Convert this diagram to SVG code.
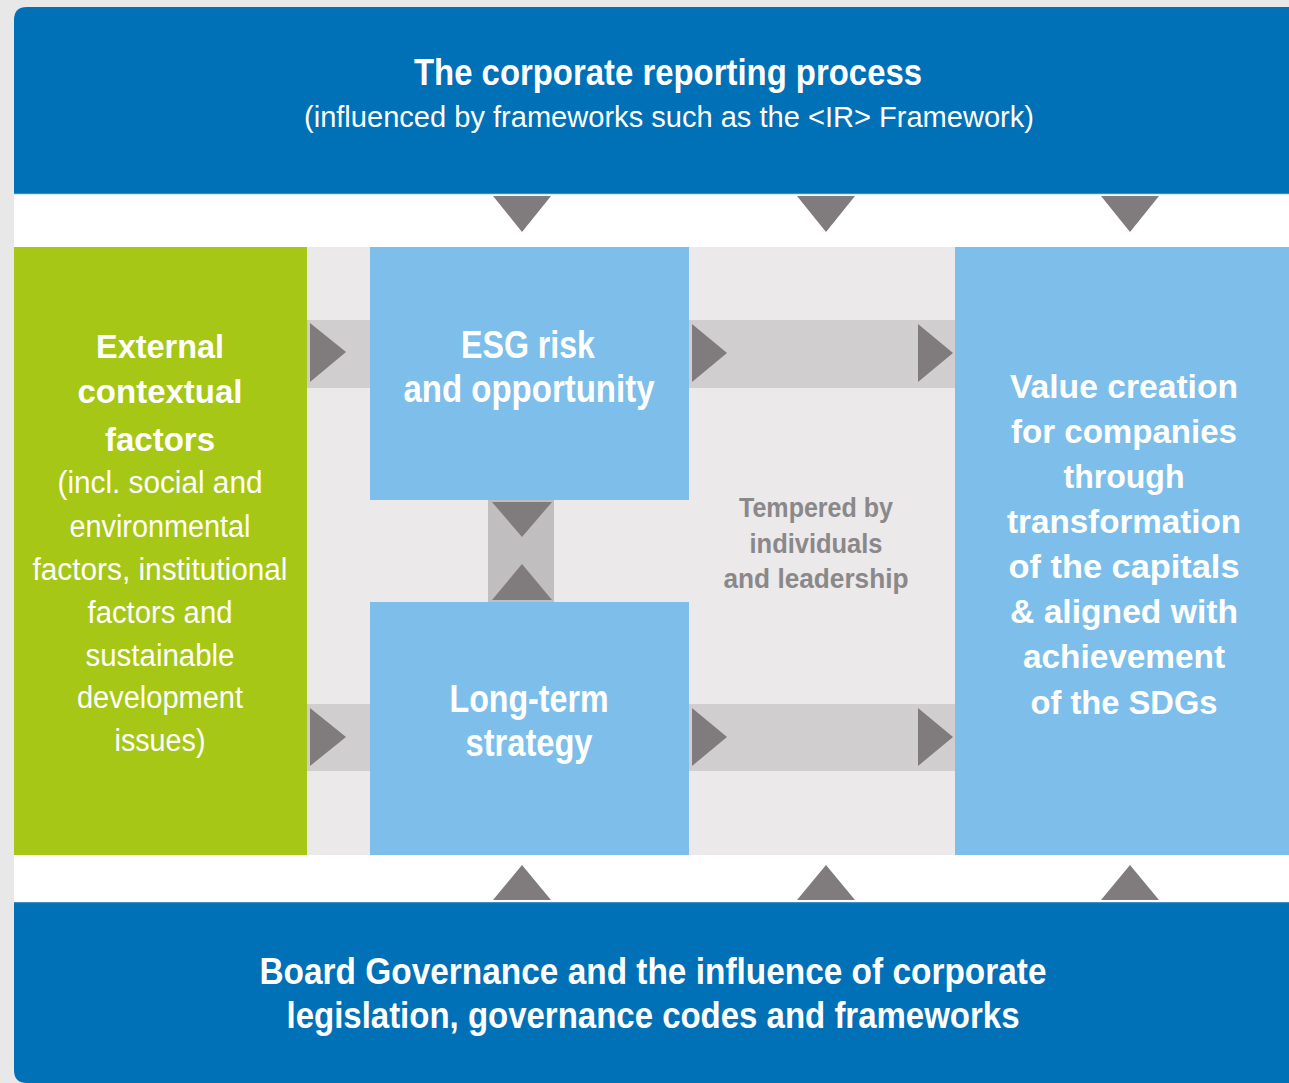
<svg xmlns="http://www.w3.org/2000/svg" width="1289" height="1083" viewBox="0 0 1289 1083">
<defs>
<style>
.t{font-family:'Liberation Sans Narrow','Liberation Sans',Arial,sans-serif;text-anchor:middle;fill:#ffffff}
.b{font-weight:bold}
.g{fill:#8a8889}
.tri{fill:#807c7d}
.bar{fill:#d0cecf}
.vbar{fill:#c1bebf}
.blue{fill:#0070b7}
.lb{fill:#7dbfea}
</style>
</defs>
<rect x="0" y="0" width="1289" height="1083" fill="#e8e8e8"/>
<rect x="14" y="194" width="1275" height="53" fill="#ffffff"/>
<rect x="14" y="247" width="1275" height="608" fill="#ebe9ea"/>
<rect x="14" y="855" width="1275" height="47" fill="#ffffff"/>

<g id="top-panel">
<path class="blue" d="M14,20 Q14,7 27,7 H1289 V194 H14 Z"/>
<rect x="14" y="193" width="1275" height="1.2" fill="#3f8dc6"/>
<text class="t b" x="668" y="85" font-size="36" textLength="508" lengthAdjust="spacingAndGlyphs">The corporate reporting process</text>
<text class="t" x="669" y="127" font-size="30" textLength="730" lengthAdjust="spacingAndGlyphs">(influenced by frameworks such as the &lt;IR&gt; Framework)</text>
</g>

<g id="bottom-panel">
<path class="blue" d="M14,902 H1289 V1083 H27 Q14,1083 14,1070 Z"/>
<rect x="14" y="902" width="1275" height="1.2" fill="#3f8dc6"/>
<text class="t b" x="653" y="984" font-size="37" textLength="787" lengthAdjust="spacingAndGlyphs">Board Governance and the influence of corporate</text>
<text class="t b" x="653" y="1028" font-size="37" textLength="733" lengthAdjust="spacingAndGlyphs">legislation, governance codes and frameworks</text>
</g>

<g id="connectors">
<rect class="bar" x="307" y="320" width="63" height="68"/>
<rect class="bar" x="689" y="320" width="266" height="68"/>
<rect class="bar" x="307" y="704" width="63" height="67"/>
<rect class="bar" x="689" y="704" width="266" height="67"/>
<rect class="vbar" x="488" y="500" width="66" height="102"/>
<polygon class="tri" points="310,323 346,352 310,382"/>
<polygon class="tri" points="692,324 727,353 692,382"/>
<polygon class="tri" points="918,324 953,353 918,382"/>
<polygon class="tri" points="310,708 346,737 310,766"/>
<polygon class="tri" points="692,708 727,737 692,766"/>
<polygon class="tri" points="918,708 953,737 918,766"/>
<polygon class="tri" points="492,502 552,502 522,537"/>
<polygon class="tri" points="492,600 552,600 522,564"/>
<polygon class="tri" points="493,196 551,196 522,232"/>
<polygon class="tri" points="797,196 855,196 826,232"/>
<polygon class="tri" points="1101,196 1159,196 1130,232"/>
<polygon class="tri" points="493,900 551,900 522,865"/>
<polygon class="tri" points="797,900 855,900 826,865"/>
<polygon class="tri" points="1101,900 1159,900 1130,865"/>
</g>

<g id="external-factors">
<rect x="14" y="247" width="293" height="608" fill="#a6c715"/>
<text class="t b" x="160" y="358" font-size="34" textLength="128" lengthAdjust="spacingAndGlyphs">External</text>
<text class="t b" x="160" y="403" font-size="34" textLength="165" lengthAdjust="spacingAndGlyphs">contextual</text>
<text class="t b" x="160" y="451" font-size="34" textLength="110" lengthAdjust="spacingAndGlyphs">factors</text>
<text class="t" x="160" y="493" font-size="31" textLength="205" lengthAdjust="spacingAndGlyphs">(incl. social and</text>
<text class="t" x="160" y="537" font-size="31" textLength="181" lengthAdjust="spacingAndGlyphs">environmental</text>
<text class="t" x="160" y="580" font-size="31" textLength="255" lengthAdjust="spacingAndGlyphs">factors, institutional</text>
<text class="t" x="160" y="623" font-size="31" textLength="145" lengthAdjust="spacingAndGlyphs">factors and</text>
<text class="t" x="160" y="666" font-size="31" textLength="149" lengthAdjust="spacingAndGlyphs">sustainable</text>
<text class="t" x="160" y="708" font-size="31" textLength="166" lengthAdjust="spacingAndGlyphs">development</text>
<text class="t" x="160" y="751" font-size="31" textLength="91" lengthAdjust="spacingAndGlyphs">issues)</text>
</g>

<g id="esg-risk">
<rect class="lb" x="370" y="247" width="319" height="253"/>
<text class="t b" x="528" y="358" font-size="38" textLength="134" lengthAdjust="spacingAndGlyphs">ESG risk</text>
<text class="t b" x="529" y="402" font-size="38" textLength="251" lengthAdjust="spacingAndGlyphs">and opportunity</text>
</g>

<g id="long-term-strategy">
<rect class="lb" x="370" y="602" width="319" height="253"/>
<text class="t b" x="529" y="712" font-size="38" textLength="159" lengthAdjust="spacingAndGlyphs">Long-term</text>
<text class="t b" x="529" y="756" font-size="38" textLength="127" lengthAdjust="spacingAndGlyphs">strategy</text>
</g>

<g id="tempered">
<text class="t b g" x="816" y="517" font-size="28" textLength="154" lengthAdjust="spacingAndGlyphs">Tempered by</text>
<text class="t b g" x="816" y="553" font-size="28" textLength="133" lengthAdjust="spacingAndGlyphs">individuals</text>
<text class="t b g" x="816" y="588" font-size="28" textLength="185" lengthAdjust="spacingAndGlyphs">and leadership</text>
</g>

<g id="value-creation">
<rect class="lb" x="955" y="247" width="334" height="608"/>
<text class="t b" x="1124" y="398" font-size="34" textLength="228" lengthAdjust="spacingAndGlyphs">Value creation</text>
<text class="t b" x="1124" y="443" font-size="34" textLength="226" lengthAdjust="spacingAndGlyphs">for companies</text>
<text class="t b" x="1124" y="488" font-size="34" textLength="121" lengthAdjust="spacingAndGlyphs">through</text>
<text class="t b" x="1124" y="533" font-size="34" textLength="234" lengthAdjust="spacingAndGlyphs">transformation</text>
<text class="t b" x="1124" y="578" font-size="34" textLength="231" lengthAdjust="spacingAndGlyphs">of the capitals</text>
<text class="t b" x="1124" y="623" font-size="34" textLength="228" lengthAdjust="spacingAndGlyphs">&amp; aligned with</text>
<text class="t b" x="1124" y="668" font-size="34" textLength="202" lengthAdjust="spacingAndGlyphs">achievement</text>
<text class="t b" x="1124" y="714" font-size="34" textLength="187" lengthAdjust="spacingAndGlyphs">of the SDGs</text>
</g>
</svg>
